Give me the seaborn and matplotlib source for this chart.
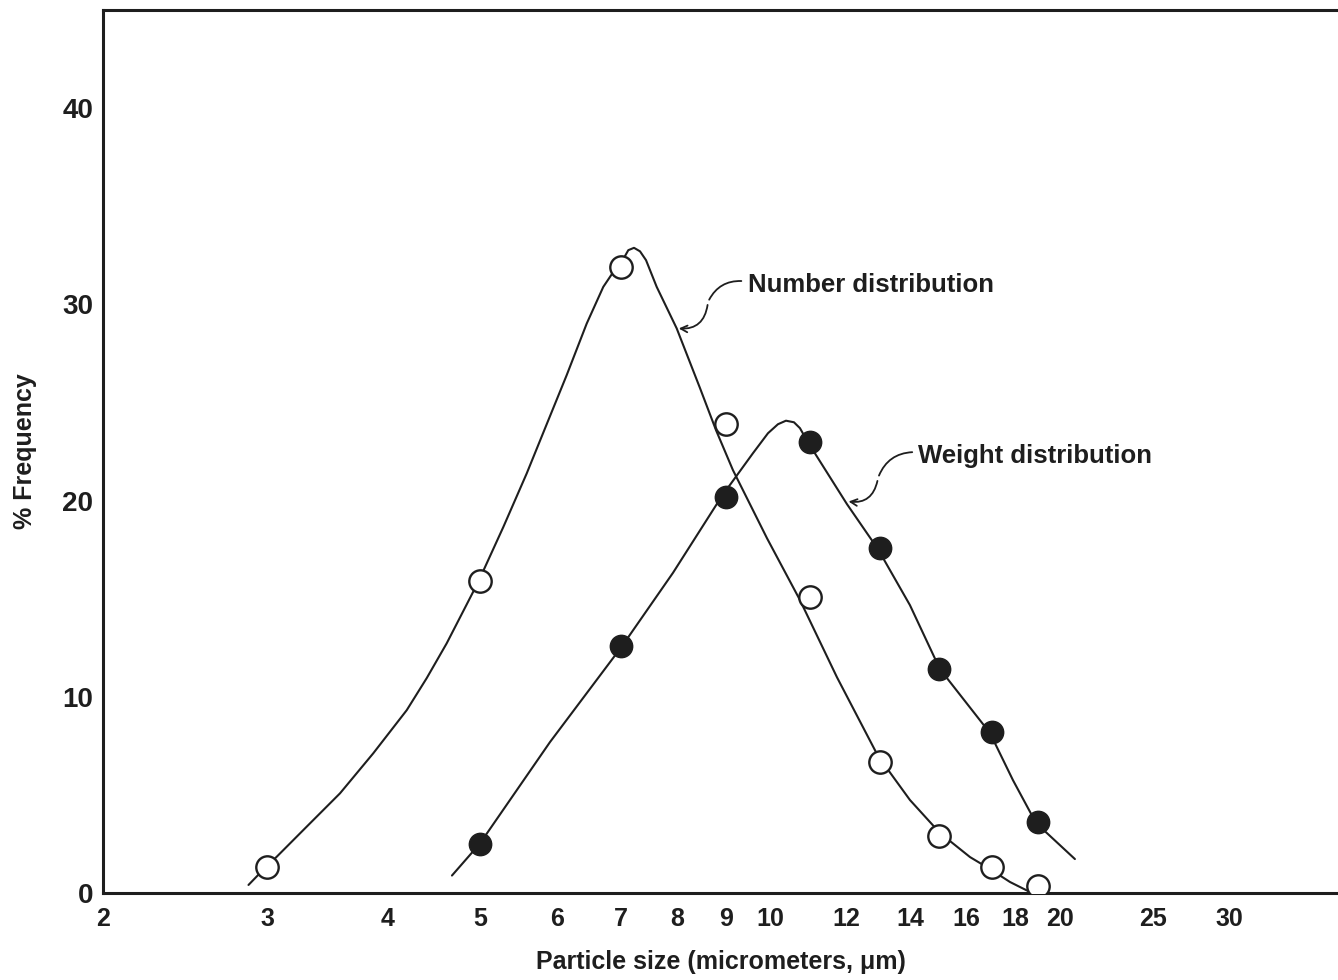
import matplotlib
matplotlib.use("Agg")
import matplotlib.pyplot as plt
import matplotlib.ticker as mticker
import seaborn as sns
import pandas as pd

# ---- data ----
number_x = [3, 5, 7, 9, 11, 13, 15, 17, 19]
number_y = [1.3, 15.9, 31.9, 23.9, 15.1, 6.7, 2.9, 1.3, 0.35]

weight_x = [5, 7, 9, 11, 13, 15, 17, 19]
weight_y = [2.5, 12.6, 20.2, 23.0, 17.6, 11.4, 8.2, 3.6]

# hand-drawn smooth curves
number_curve_x = [2.870, 2.994, 3.071, 3.299, 3.573, 3.869, 4.192, 4.397, 4.612, 4.838,
                  4.975, 5.283, 5.586, 5.860, 6.147, 6.449, 6.710, 6.873, 7.012, 7.124,
                  7.222, 7.327, 7.433, 7.625, 7.998, 8.458, 8.788, 9.152, 9.929, 10.744,
                  11.738, 12.952, 13.980, 15.020, 16.143, 16.934, 17.764, 18.634]
number_curve_y = [0.41, 1.34, 1.85, 3.38, 5.08, 7.12, 9.32, 10.95, 12.72, 14.70,
                  15.86, 18.66, 21.38, 23.89, 26.39, 29.02, 30.89, 31.65, 32.16, 32.76,
                  32.88, 32.70, 32.25, 30.89, 28.78, 25.73, 23.59, 21.55, 18.08, 14.93,
                  11.00, 6.98, 4.74, 3.06, 1.83, 1.22, 0.56, 0.05]

weight_curve_x = [4.671, 4.994, 5.906, 7.018, 7.929, 8.916, 9.600, 9.952, 10.193, 10.390,
                  10.591, 10.744, 10.952, 12.023, 12.952, 13.980, 15.020, 16.934, 17.890,
                  18.904, 20.75]
weight_curve_y = [0.89, 2.52, 7.69, 12.58, 16.32, 20.24, 22.41, 23.43, 23.89, 24.07,
                  23.99, 23.69, 22.97, 19.82, 17.52, 14.67, 11.41, 8.15, 5.75,
                  3.57, 1.73]

x_ticks = [2, 3, 4, 5, 6, 7, 8, 9, 10, 12, 14, 16, 18, 20, 25, 30]
y_ticks = [0, 10, 20, 30, 40]

# ---- styling ----
sns.set_theme(style="white")
plt.rcParams["font.family"] = ["Liberation Sans", "DejaVu Sans"]
ink = "#1e1e1e"

fig = plt.figure(figsize=(13.38, 9.80), dpi=100)
ax = fig.add_axes([103 / 1338, 87 / 980, 1 - 103 / 1338, (893 - 10) / 980])

x_min, x_max = 2.026, 38.95

df_nc = pd.DataFrame({"x": number_curve_x, "y": number_curve_y})
df_wc = pd.DataFrame({"x": weight_curve_x, "y": weight_curve_y})
sns.lineplot(data=df_nc, x="x", y="y", sort=False, estimator=None, color=ink,
             linewidth=1.5, ax=ax)
sns.lineplot(data=df_wc, x="x", y="y", sort=False, estimator=None, color=ink,
             linewidth=1.5, ax=ax)

df_n = pd.DataFrame({"x": number_x, "y": number_y})
df_w = pd.DataFrame({"x": weight_x, "y": weight_y})
sns.scatterplot(data=df_n, x="x", y="y", s=260, facecolor="white", edgecolor=ink,
                linewidth=1.7, ax=ax, zorder=5)
sns.scatterplot(data=df_w, x="x", y="y", s=260, color=ink, edgecolor=ink,
                linewidth=1.0, ax=ax, zorder=5)

ax.set_xscale("log")
ax.set_xlim(x_min, x_max)
ax.set_ylim(0, 45)
tick_pos = [max(t, x_min) for t in x_ticks]
ax.xaxis.set_major_locator(mticker.FixedLocator(tick_pos))
ax.xaxis.set_minor_locator(mticker.NullLocator())
ax.set_xticklabels([str(t) for t in x_ticks])
ax.set_yticks(y_ticks)
ax.set_yticklabels([str(t) for t in y_ticks])

ax.tick_params(axis="x", direction="in", length=14, width=1.5, colors=ink,
               labelsize=18, pad=10)
ax.tick_params(axis="y", direction="in", length=21, width=1.5, colors=ink,
               labelsize=20, pad=7)
for lab in ax.get_yticklabels() + ax.get_xticklabels():
    lab.set_fontweight("bold")

for side in ["left", "bottom", "top"]:
    ax.spines[side].set_color(ink)
    ax.spines[side].set_linewidth(2.2)
ax.spines["right"].set_visible(False)

ax.set_xlabel("Particle size (micrometers, μm)", fontsize=18, fontweight="bold",
              color=ink, labelpad=14)
ax.set_ylabel("% Frequency", fontsize=18, fontweight="bold", color=ink, labelpad=18)

# annotations with wiggly leader arrows
ax.text(9.49, 31.0, "Number distribution", fontsize=18.5, fontweight="bold",
        color=ink, va="center", ha="left")
ax.annotate("", xy=(8.62, 30.11), xytext=(9.40, 31.18),
            arrowprops=dict(arrowstyle="-", color=ink, lw=1.3,
                            connectionstyle="arc3,rad=0.35"))
ax.annotate("", xy=(7.985, 28.78), xytext=(8.62, 30.11),
            arrowprops=dict(arrowstyle="->", color=ink, lw=1.3,
                            connectionstyle="arc3,rad=-0.5"))

ax.text(14.25, 22.26, "Weight distribution", fontsize=18.5, fontweight="bold",
        color=ink, va="center", ha="left")
ax.annotate("", xy=(12.95, 21.14), xytext=(14.15, 22.47),
            arrowprops=dict(arrowstyle="-", color=ink, lw=1.3,
                            connectionstyle="arc3,rad=0.35"))
ax.annotate("", xy=(11.99, 19.97), xytext=(12.95, 21.14),
            arrowprops=dict(arrowstyle="->", color=ink, lw=1.3,
                            connectionstyle="arc3,rad=-0.5"))

fig.savefig("out.png", dpi=100, facecolor="white")
